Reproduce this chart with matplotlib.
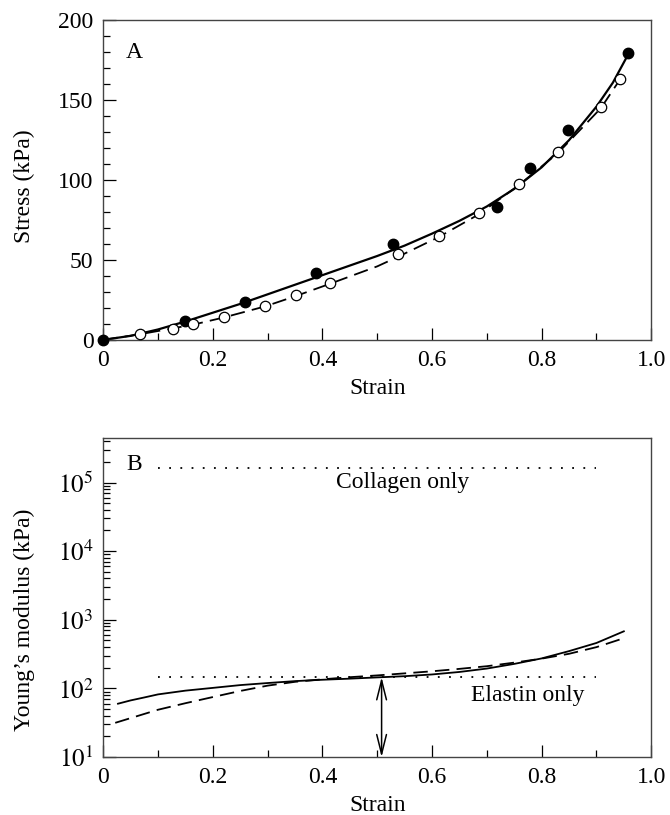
import matplotlib
matplotlib.use("Agg")
import matplotlib.pyplot as plt
from matplotlib.ticker import MultipleLocator, LogLocator, NullFormatter

plt.rcParams['font.family'] = ['Liberation Serif', 'DejaVu Serif']
plt.rcParams['mathtext.fontset'] = 'stix'

# Panel A: measured stress-strain points
filled_strain = [0.0, 0.149, 0.258, 0.389, 0.528, 0.719, 0.778, 0.849, 0.958]
filled_stress = [0.0, 12.1, 23.8, 41.8, 60.0, 83.4, 107.6, 131.4, 179.3]
open_strain = [0.067, 0.127, 0.164, 0.220, 0.296, 0.352, 0.413, 0.538, 0.613,
               0.685, 0.759, 0.830, 0.908, 0.943]
open_stress = [3.8, 6.5, 9.8, 14.2, 21.3, 28.2, 35.3, 53.5, 65.0,
               79.4, 97.6, 117.4, 145.7, 163.0]

# Panel A: fitted curves
solid_a_x = [0.0, 0.05, 0.1, 0.15, 0.2, 0.25, 0.3, 0.35, 0.4, 0.45, 0.5, 0.55,
             0.6, 0.65, 0.7, 0.75, 0.8, 0.85, 0.9, 0.93, 0.96]
solid_a_y = [0.0, 2.5, 6.5, 11.5, 17.0, 22.5, 28.5, 34.5, 40.5, 46.5, 52.5, 59.0,
             66.5, 74.5, 83.5, 94.5, 108.0, 125.0, 146.0, 161.0, 180.0]
dashed_a_x = [0.0, 0.067, 0.164, 0.22, 0.296, 0.352, 0.413, 0.5, 0.538, 0.613,
              0.685, 0.759, 0.83, 0.908, 0.943]
dashed_a_y = [0.0, 3.5, 9.5, 14.0, 21.0, 27.5, 35.0, 46.0, 52.0, 64.5,
              78.5, 97.0, 117.0, 145.0, 163.0]

# Panel B: Young's modulus curves
solid_b_x = [0.027, 0.05, 0.075, 0.1, 0.15, 0.2, 0.25, 0.3, 0.35, 0.4, 0.45,
             0.5, 0.55, 0.6, 0.65, 0.7, 0.75, 0.8, 0.85, 0.9, 0.95]
solid_b_y = [60, 67, 74, 82, 93, 102, 112, 120, 128, 134, 139,
             145, 151, 160, 174, 195, 228, 274, 350, 460, 680]
dashed_b_x = [0.022, 0.05, 0.1, 0.15, 0.2, 0.25, 0.3, 0.35, 0.4, 0.45,
              0.5, 0.55, 0.6, 0.65, 0.7, 0.75, 0.8, 0.85, 0.9, 0.95]
dashed_b_y = [31.6, 37, 49, 61, 75, 92, 110, 125, 136, 146,
              155, 166, 178, 193, 211, 238, 272, 320, 400, 540]

collagen_modulus = 1.6e5
elastin_modulus = 146
ref_strain = [0.1, 0.9]
arrow_strain = 0.508

x_ticks = [0, 0.2, 0.4, 0.6, 0.8, 1.0]
x_labels = ["0", "0.2", "0.4", "0.6", "0.8", "1.0"]

FS = 17


def style_axes(ax):
    for sp in ax.spines.values():
        sp.set_color("#444444")
        sp.set_linewidth(1.0)
    ax.tick_params(which="both", direction="in", top=False, right=False,
                   labelsize=FS, pad=7)
    ax.tick_params(which="major", length=9, width=0.9)
    ax.tick_params(which="minor", length=5, width=0.9)
    ax.set_xticks(x_ticks)
    ax.set_xticklabels(x_labels)
    ax.xaxis.set_minor_locator(MultipleLocator(0.1))
    ax.set_xlim(0, 1.0)


fig = plt.figure(figsize=(6.7, 8.15), dpi=100)

# ---- Panel A ----
ax1 = fig.add_axes([0.154, 0.583, 0.818, 0.392])
style_axes(ax1)
ax1.plot(solid_a_x, solid_a_y, color="black", lw=1.6, zorder=2)
ax1.plot(dashed_a_x, dashed_a_y, color="black", lw=1.3, ls=(0, (8, 4)), zorder=2)
ax1.plot(filled_strain, filled_stress, "o", color="black", ms=7.5, zorder=3,
         clip_on=False)
ax1.plot(open_strain, open_stress, "o", mfc="white", mec="black", mew=0.9,
         ms=7.5, zorder=3, clip_on=False)
ax1.set_ylim(0, 200)
ax1.yaxis.set_major_locator(MultipleLocator(50))
ax1.yaxis.set_minor_locator(MultipleLocator(10))
ax1.set_xlabel("Strain", fontsize=FS, labelpad=5)
ax1.set_ylabel("Stress (kPa)", fontsize=FS)
ax1.yaxis.set_label_coords(-0.124, 0.48)
ax1.text(0.042, 0.9, "A", transform=ax1.transAxes, fontsize=FS, va="center")

# ---- Panel B ----
ax2 = fig.add_axes([0.154, 0.071, 0.818, 0.392])
style_axes(ax2)
ax2.set_yscale("log")
ax2.set_ylim(10, 4.5e5)
ax2.yaxis.set_minor_locator(LogLocator(base=10, subs=range(2, 10), numticks=20))
ax2.yaxis.set_minor_formatter(NullFormatter())
ax2.set_yticks([10, 1e2, 1e3, 1e4, 1e5])
ax2.set_yticklabels([r"$10^{1}$", r"$10^{2}$", r"$10^{3}$", r"$10^{4}$", r"$10^{5}$"],
                    fontsize=18)
ax2.plot(solid_b_x, solid_b_y, color="black", lw=1.3)
ax2.plot(dashed_b_x, dashed_b_y, color="black", lw=1.3, ls=(0, (8, 4)))
ax2.plot(ref_strain, [collagen_modulus] * 2, color="black", lw=1.3, ls=(0, (1, 5.2)))
ax2.plot(ref_strain, [elastin_modulus] * 2, color="black", lw=1.3, ls=(0, (1, 5.2)))
ax2.annotate("", xy=(arrow_strain, 10), xytext=(arrow_strain, elastin_modulus),
             arrowprops=dict(arrowstyle="<->,head_length=1.4,head_width=0.35",
                             color="black", lw=1.1, shrinkA=0, shrinkB=0))
ax2.text(0.546, 1e5, "Collagen only", fontsize=FS, ha="center", va="center")
ax2.text(0.774, 79, "Elastin only", fontsize=FS, ha="center", va="center")
ax2.text(0.042, 1.8e5, "B", fontsize=FS, va="center")
ax2.set_xlabel("Strain", fontsize=FS, labelpad=5)
ax2.set_ylabel("Young\u2019s modulus (kPa)", fontsize=FS)
ax2.yaxis.set_label_coords(-0.124, 0.43)

fig.savefig("out.png", dpi=100)
